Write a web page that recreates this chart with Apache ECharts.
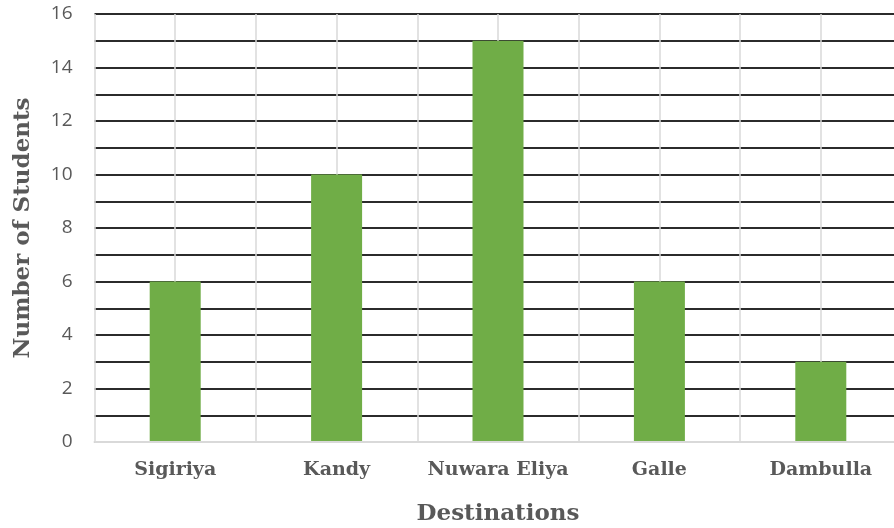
<!DOCTYPE html>
<html>
<head>
<meta charset="utf-8">
<style>
  html, body { margin: 0; padding: 0; background: #fff; overflow: hidden; }
  #chart { width: 902px; height: 528px; }
</style>
<script src="https://cdn.jsdelivr.net/npm/echarts@6/dist/echarts.min.js"></script>
</head>
<body>
<div id="chart"></div>
<script>
// Trip destinations chosen by students
const destinations = ['Sigiriya', 'Kandy', 'Nuwara Eliya', 'Galle', 'Dambulla'];
const students = [6, 10, 15, 6, 3];
const yTicks = [0, 2, 4, 6, 8, 10, 12, 14, 16];

const labelColor = '#595959';
const serif = '"DejaVu Serif", "Liberation Serif", serif';

const chart = echarts.init(document.getElementById('chart'), null, { renderer: 'canvas' });

chart.setOption({
  animation: false,
  grid: { left: 94.5, top: 14, right: 0.5, bottom: 86, outerBoundsMode: 'none', containLabel: false },
  xAxis: [
    {
      type: 'category',
      data: destinations,
      name: 'Destinations',
      nameLocation: 'middle',
      nameGap: 61,
      nameTextStyle: { fontFamily: serif, fontWeight: 'bold', fontSize: 23, color: labelColor },
      axisLine: { show: true, lineStyle: { color: '#d9d9d9', width: 2 } },
      axisTick: { show: false },
      axisLabel: { interval: 0, fontFamily: serif, fontWeight: 'bold', fontSize: 19, color: labelColor, margin: 19 },
      splitLine: { show: false },
      z: 5
    },
    {
      // half-category guides: light vertical rules at centres and boundaries
      type: 'value',
      min: 0,
      max: destinations.length * 2,
      interval: 1,
      position: 'bottom',
      axisLine: { show: false },
      axisTick: { show: false },
      axisLabel: { show: false },
      splitLine: { show: true, lineStyle: { color: '#d9d9d9', width: 1.5 } }
    }
  ],
  yAxis: {
    type: 'value',
    min: 0,
    max: 16,
    interval: 1,
    name: 'Number of Students',
    nameLocation: 'middle',
    nameGap: 60,
    nameTextStyle: { fontFamily: serif, fontWeight: 'bold', fontSize: 23, color: labelColor },
    axisLine: { show: false },
    axisTick: { show: false },
    axisLabel: {
      fontFamily: '"Open Sans", "Liberation Sans", sans-serif',
      fontSize: 19,
      color: labelColor,
      margin: 22,
      formatter: v => (yTicks.includes(v) ? String(v) : '')
    },
    splitLine: { show: true, lineStyle: { color: '#2b2b2b', width: 2 } }
  },
  series: [
    {
      type: 'bar',
      xAxisIndex: 0,
      data: students,
      barWidth: 51,
      itemStyle: { color: '#70ad47' },
      z: 3
    }
  ]
});
</script>
</body>
</html>
